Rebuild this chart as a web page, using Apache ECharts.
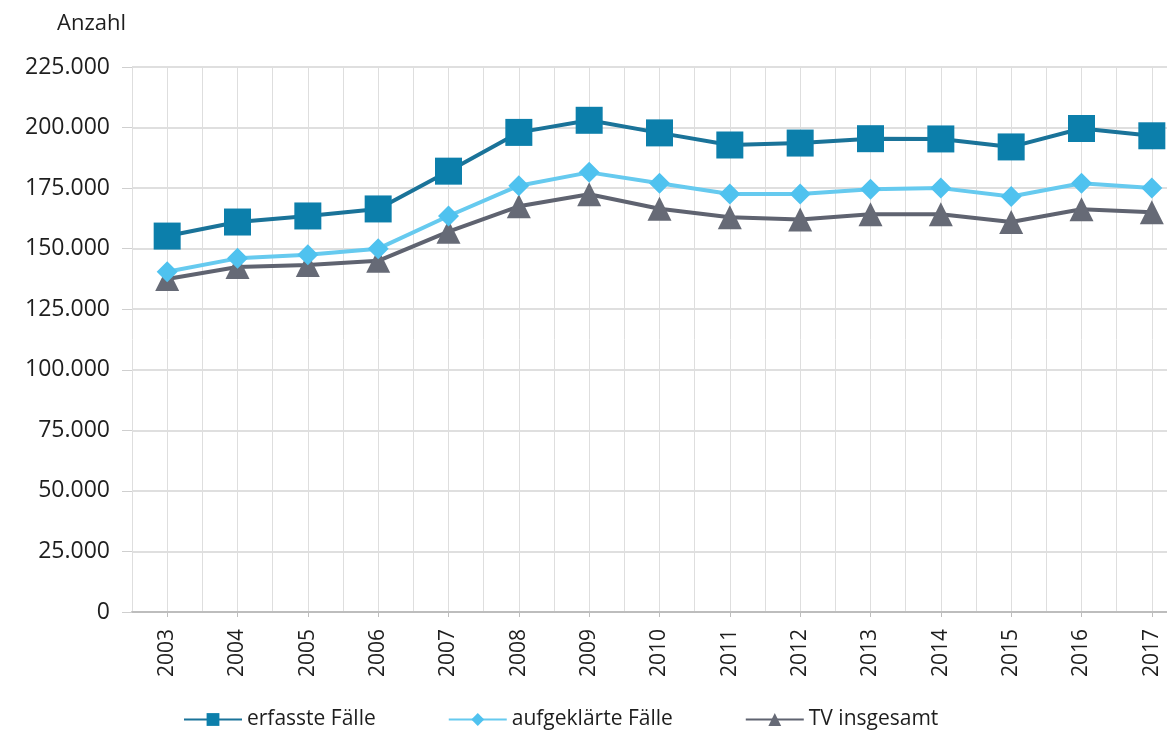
<!DOCTYPE html>
<html>
<head>
<meta charset="utf-8">
<script src="https://cdn.jsdelivr.net/npm/echarts@6/dist/echarts.min.js"></script>
<style>
  html, body { margin: 0; padding: 0; background: #fff; }
  #chart { width: 1167px; height: 739px; }
</style>
</head>
<body>
<div id="chart"></div>
<script>
const years = ['2003', '2004', '2005', '2006', '2007', '2008', '2009', '2010', '2011', '2012', '2013', '2014', '2015', '2016', '2017'];
const erfasst = [155200, 161000, 163500, 166400, 182000, 198000, 203000, 197800, 192800, 193600, 195400, 195300, 192000, 199600, 196600];
const aufgeklaert = [140500, 146000, 147500, 150000, 163500, 176000, 181500, 177000, 172600, 172600, 174500, 175000, 171500, 177000, 175000];
const tvGesamt = [137500, 142400, 143300, 145000, 157000, 167500, 172500, 166500, 163000, 162000, 164200, 164200, 161000, 166300, 165000];

const font = '"Open Sans", "Noto Sans", sans-serif';
const fmt = v => String(v).replace(/\B(?=(\d{3})+(?!\d))/g, '.');

const chart = echarts.init(document.getElementById('chart'));
const option = {
    animation: false,
    textStyle: { fontFamily: font },
    grid: {
        left: 132, right: -20, top: 67, bottom: 127,
        outerBoundsMode: 'none'
    },
    legend: {
        bottom: 4,
        left: 178,
        itemWidth: 58,
        itemHeight: 16,
        itemGap: 72,
        textStyle: { fontSize: 21, color: '#1e1e1e', fontFamily: font },
        data: ['erfasste Fälle', 'aufgeklärte Fälle', 'TV insgesamt']
    },
    xAxis: [
        {
            type: 'category',
            data: years,
            boundaryGap: true,
            axisLine: { lineStyle: { color: '#bdbdbd', width: 2 } },
            axisTick: { show: true, alignWithLabel: true, length: 5, lineStyle: { color: '#bdbdbd' } },
            axisLabel: { rotate: 90, fontSize: 21, color: '#1e1e1e', margin: 17 },
            splitLine: { show: false }
        },
        {
            // fine vertical grid: one line at every category centre and boundary
            type: 'value',
            min: 0,
            max: years.length * 2,
            interval: 1,
            axisLine: { show: false },
            axisTick: { show: false },
            axisLabel: { show: false },
            splitLine: { show: true, lineStyle: { color: '#dedede', width: 1 } }
        }
    ],
    yAxis: {
        type: 'value',
        min: 0,
        max: 225000,
        interval: 25000,
        name: 'Anzahl',
        nameLocation: 'end',
        nameGap: 32,
        nameTextStyle: { fontSize: 22, color: '#1e1e1e', align: 'right', padding: [0, 6, 0, 0] },
        axisLine: { show: false },
        axisTick: { show: true, length: 10, lineStyle: { color: '#cfcfcf' } },
        axisLabel: { fontSize: 23, color: '#1e1e1e', margin: 22, formatter: fmt },
        splitLine: { show: true, lineStyle: { color: '#d4d4d4', width: 1.5 } }
    },
    series: [
        {
            name: 'erfasste Fälle',
            type: 'line',
            data: erfasst,
            symbol: 'rect',
            symbolSize: 27,
            lineStyle: { color: '#1a7399', width: 4 },
            itemStyle: { color: '#0c7fab' },
            z: 3
        },
        {
            name: 'aufgeklärte Fälle',
            type: 'line',
            data: aufgeklaert,
            symbol: 'diamond',
            symbolSize: 21,
            lineStyle: { color: '#66caef', width: 4 },
            itemStyle: { color: '#4fc2ef' },
            z: 2
        },
        {
            name: 'TV insgesamt',
            type: 'line',
            data: tvGesamt,
            symbol: 'triangle',
            symbolSize: 24,
            lineStyle: { color: '#5f6370', width: 4 },
            itemStyle: { color: '#666a76' },
            z: 1
        }
    ]
};
chart.setOption(option);
</script>
</body>
</html>
